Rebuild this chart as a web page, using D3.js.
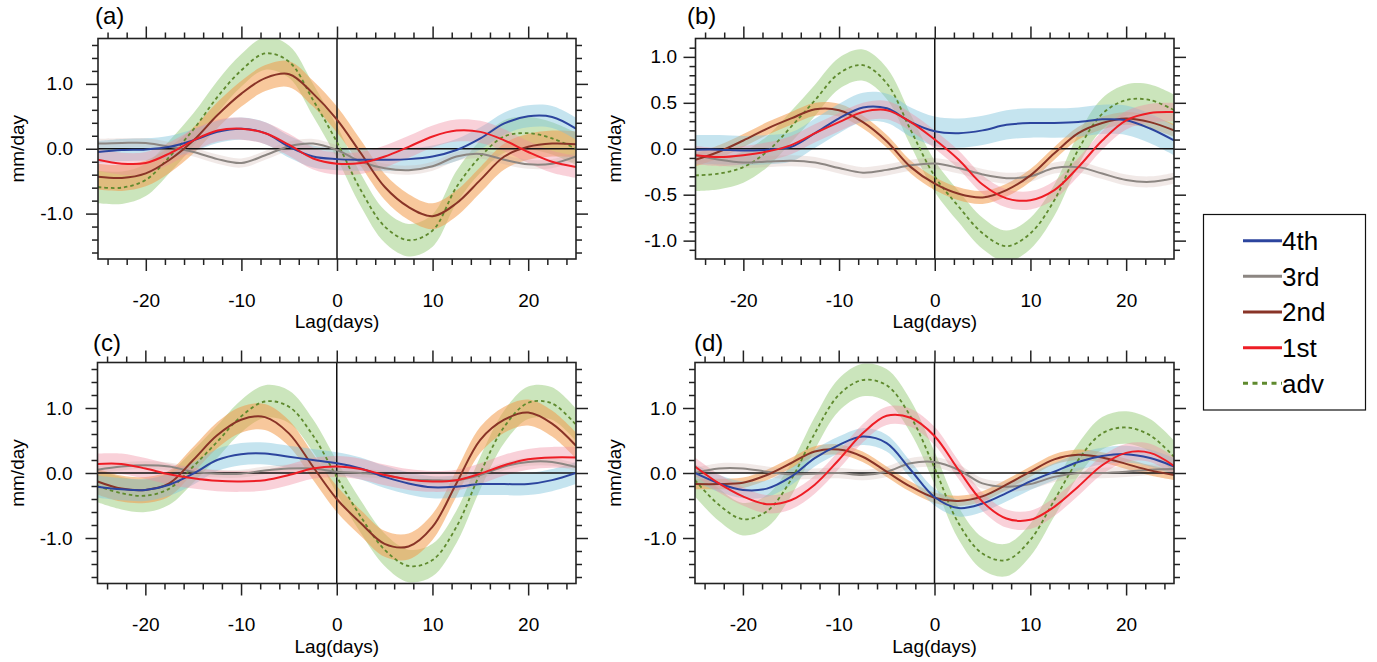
<!DOCTYPE html>
<html lang="en">
<head>
<meta charset="UTF-8">
<title>Lag composites</title>
<script src="https://cdn.jsdelivr.net/npm/d3@7"></script>
<style>
    body { margin: 0; background: #fff; }
    svg text { font-family: "Liberation Sans", Arial, Helvetica, sans-serif; fill: #000; }
</style>
</head>
<body>
<script>

    let w = 1377, h = 662;

    // lag axis shared by every series
    let lags = [-25, -22.5, -20, -17.5, -15, -12.5, -10, -7.5, -5, -2.5, 0,
                2.5, 5, 7.5, 10, 12.5, 15, 17.5, 20, 22.5, 25];

    let names = ['4th', '3rd', '2nd', '1st', 'adv'];
    let lineColors = ['#2c459e', '#8c8682', '#893427', '#ee1d25', '#5f8a2e'];
    let bandColors = ['#7ec3dc', '#c8a8a0', '#f39a4a', '#f08ca0', '#8cc66b'];
    let bandOpacity = [0.45, 0.25, 0.55, 0.4, 0.45];

    // (a)
    let a4th = [-0.05, -0.02, -0.01, 0.03, 0.13, 0.26, 0.31, 0.24, 0.03, -0.12, -0.16, -0.17, -0.17, -0.16, -0.12, -0.02, 0.16, 0.39, 0.50, 0.49, 0.31];
    let a3rd = [0.08, 0.09, 0.09, 0.03, -0.05, -0.16, -0.22, -0.10, 0.04, 0.08, -0.02, -0.20, -0.30, -0.33, -0.27, -0.12, -0.08, -0.17, -0.24, -0.23, -0.12];
    let a2nd = [-0.43, -0.45, -0.38, -0.17, 0.13, 0.52, 0.85, 1.09, 1.15, 0.85, 0.45, -0.07, -0.59, -0.90, -1.04, -0.84, -0.48, -0.12, 0.03, 0.08, 0.07];
    let a1st = [-0.17, -0.23, -0.22, -0.07, 0.13, 0.28, 0.31, 0.24, 0.06, -0.15, -0.23, -0.22, -0.12, 0.03, 0.19, 0.28, 0.26, 0.13, -0.05, -0.20, -0.28];
    let aAdv = [-0.59, -0.60, -0.48, -0.12, 0.30, 0.80, 1.21, 1.47, 1.34, 0.75, 0.10, -0.64, -1.20, -1.41, -1.26, -0.59, -0.12, 0.19, 0.24, 0.16, 0.00];
    let aSpread = [0.17, 0.07, 0.20, 0.17, 0.25];

    // (b)
    let b4th = [-0.01, -0.01, -0.02, -0.01, 0.02, 0.17, 0.33, 0.45, 0.44, 0.29, 0.19, 0.17, 0.20, 0.26, 0.28, 0.28, 0.29, 0.32, 0.31, 0.22, 0.09];
    let b3rd = [-0.07, -0.12, -0.15, -0.14, -0.13, -0.15, -0.21, -0.26, -0.23, -0.18, -0.16, -0.21, -0.28, -0.32, -0.30, -0.21, -0.20, -0.27, -0.34, -0.36, -0.32];
    let b2nd = [-0.12, -0.03, 0.09, 0.22, 0.33, 0.43, 0.42, 0.29, 0.08, -0.20, -0.38, -0.49, -0.53, -0.45, -0.29, -0.05, 0.17, 0.28, 0.33, 0.29, 0.20];
    let b1st = [-0.07, -0.09, -0.07, -0.03, 0.04, 0.17, 0.29, 0.40, 0.42, 0.29, 0.10, -0.12, -0.39, -0.54, -0.56, -0.45, -0.20, 0.09, 0.31, 0.39, 0.40];
    let bAdv = [-0.29, -0.27, -0.20, -0.03, 0.24, 0.53, 0.82, 0.91, 0.71, 0.20, -0.30, -0.63, -0.92, -1.06, -0.92, -0.56, -0.01, 0.38, 0.53, 0.53, 0.42];
    let bSpread = [0.16, 0.06, 0.07, 0.10, 0.17];

    // (c)
    let c4th = [-0.21, -0.25, -0.26, -0.18, -0.01, 0.20, 0.29, 0.30, 0.25, 0.20, 0.15, 0.07, -0.06, -0.16, -0.22, -0.21, -0.17, -0.17, -0.17, -0.11, 0.00];
    let c3rd = [0.05, 0.10, 0.12, 0.10, 0.02, -0.01, -0.01, 0.04, 0.07, 0.07, 0.02, 0.00, -0.03, -0.10, -0.11, -0.11, -0.03, 0.10, 0.17, 0.17, 0.09];
    let c2nd = [-0.13, -0.24, -0.26, -0.16, 0.20, 0.58, 0.82, 0.86, 0.61, 0.10, -0.40, -0.77, -1.09, -1.13, -0.83, -0.16, 0.51, 0.82, 0.93, 0.76, 0.42];
    let c1st = [0.14, 0.14, 0.07, -0.02, -0.08, -0.12, -0.13, -0.11, -0.03, 0.07, 0.10, 0.06, -0.03, -0.10, -0.13, -0.11, -0.01, 0.12, 0.21, 0.24, 0.24];
    let cAdv = [-0.20, -0.31, -0.35, -0.24, 0.10, 0.48, 0.87, 1.10, 1.02, 0.58, -0.06, -0.67, -1.18, -1.43, -1.34, -0.83, 0.00, 0.71, 1.08, 1.07, 0.74];
    let cSpread = [0.17, 0.06, 0.20, 0.16, 0.25];

    // (d)
    let d4th = [0.00, -0.16, -0.26, -0.24, -0.06, 0.23, 0.43, 0.56, 0.46, 0.05, -0.37, -0.54, -0.47, -0.31, -0.13, 0.02, 0.17, 0.26, 0.29, 0.23, 0.10];
    let d3rd = [0.00, 0.07, 0.07, 0.02, -0.02, -0.01, 0.00, -0.03, 0.02, 0.15, 0.17, 0.05, -0.16, -0.21, -0.17, -0.06, 0.00, 0.00, 0.02, 0.05, 0.06];
    let d2nd = [-0.17, -0.17, -0.15, -0.03, 0.15, 0.33, 0.36, 0.25, 0.02, -0.21, -0.38, -0.43, -0.36, -0.18, 0.02, 0.21, 0.28, 0.24, 0.14, 0.04, -0.03];
    let d1st = [0.10, -0.16, -0.36, -0.48, -0.42, -0.18, 0.20, 0.61, 0.88, 0.85, 0.57, 0.05, -0.44, -0.70, -0.72, -0.52, -0.21, 0.12, 0.31, 0.31, 0.11];
    let dAdv = [-0.11, -0.49, -0.71, -0.59, -0.11, 0.61, 1.20, 1.43, 1.35, 0.87, 0.08, -0.77, -1.24, -1.34, -1.03, -0.42, 0.20, 0.61, 0.70, 0.58, 0.25];
    let dSpread = [0.13, 0.08, 0.08, 0.14, 0.25];

    let yMajorWide = [-1, 0, 1];
    let yMajorNarrow = [-1, -0.5, 0, 0.5, 1];
    let xMajor = [-20, -10, 0, 10, 20];
    let xMinor = d3.range(-24, 25, 2).filter(i => i % 10 !== 0);
    let yMinorWide = d3.range(-16, 17, 2).filter(i => i % 10 !== 0).map(i => i / 10);
    let yMinorNarrow = d3.range(-11, 12, 1).filter(i => i % 5 !== 0).map(i => i / 10);

    let panels = [
        {label: '(a)', series: [a4th, a3rd, a2nd, a1st, aAdv], spread: aSpread,
         x0: 98, x1: 576, y0: 38.5, y1: 259, yDom: [-1.7, 1.7], yMajor: yMajorWide, yMinor: yMinorWide,
         lx: 95, ly: 24, pad: 13, titleX: 17},
        {label: '(b)', series: [b4th, b3rd, b2nd, b1st, bAdv], spread: bSpread,
         x0: 695.5, x1: 1174, y0: 38.5, y1: 259, yDom: [-1.2, 1.2], yMajor: yMajorNarrow, yMinor: yMinorNarrow,
         lx: 687, ly: 24, pad: 6.5, titleX: 614},
        {label: '(c)', series: [c4th, c3rd, c2nd, c1st, cAdv], spread: cSpread,
         x0: 97.5, x1: 576, y0: 362.5, y1: 583.5, yDom: [-1.7, 1.7], yMajor: yMajorWide, yMinor: yMinorWide,
         lx: 93, ly: 351, pad: 13, titleX: 17},
        {label: '(d)', series: [d4th, d3rd, d2nd, d1st, dAdv], spread: dSpread,
         x0: 695, x1: 1174, y0: 362.5, y1: 583.5, yDom: [-1.7, 1.7], yMajor: yMajorWide, yMinor: yMinorWide,
         lx: 694, ly: 351, pad: 6.5, titleX: 614}
    ];

    let svg = d3.select('body')
        .append('svg')
        .attr('width', w)
        .attr('height', h);

    let bandOrder = [4, 2, 0, 3, 1];
    let lineOrder = [4, 1, 2, 0, 3];

    function styleAxis(g) {
        g.select('.domain').remove();
        g.selectAll('line').attr('stroke', '#222').attr('stroke-width', 1.5);
        g.selectAll('text').style('font-size', '19px');
    }

    panels.forEach((p, k) => {
        let x = d3.scaleLinear().domain([-25, 25]).range([p.x0, p.x1]);
        let y = d3.scaleLinear().domain(p.yDom).range([p.y1, p.y0]);

        svg.append('clipPath').attr('id', 'clip' + k)
            .append('rect')
            .attr('x', p.x0).attr('y', p.y0)
            .attr('width', p.x1 - p.x0).attr('height', p.y1 - p.y0);

        let plot = svg.append('g').attr('clip-path', 'url(#clip' + k + ')');

        bandOrder.forEach(j => {
            let s = p.spread[j];
            let area = d3.area()
                .x((d, i) => x(lags[i]))
                .y0(d => y(d - s))
                .y1(d => y(d + s))
                .curve(d3.curveCatmullRom);
            plot.append('path')
                .attr('d', area(p.series[j]))
                .attr('fill', bandColors[j])
                .attr('fill-opacity', bandOpacity[j]);
        });

        // zero lines
        plot.append('line')
            .attr('x1', p.x0).attr('x2', p.x1)
            .attr('y1', y(0)).attr('y2', y(0))
            .attr('stroke', '#111').attr('stroke-width', 1.5);
        plot.append('line')
            .attr('x1', x(0)).attr('x2', x(0))
            .attr('y1', p.y0).attr('y2', p.y1)
            .attr('stroke', '#111').attr('stroke-width', 1.5);

        lineOrder.forEach(j => {
            let line = d3.line()
                .x((d, i) => x(lags[i]))
                .y(d => y(d))
                .curve(d3.curveCatmullRom);
            plot.append('path')
                .attr('d', line(p.series[j]))
                .attr('fill', 'none')
                .attr('stroke', lineColors[j])
                .attr('stroke-width', j === 4 ? 1.8 : 2)
                .attr('stroke-dasharray', j === 4 ? '3.5,3' : null);
        });

        // frame
        svg.append('rect')
            .attr('x', p.x0).attr('y', p.y0)
            .attr('width', p.x1 - p.x0).attr('height', p.y1 - p.y0)
            .attr('fill', 'none')
            .attr('stroke', '#222')
            .attr('stroke-width', 1.6);

        // ticks, outward on all four sides
        svg.append('g').attr('transform', 'translate(0,' + p.y1 + ')')
            .call(d3.axisBottom(x).tickValues(xMajor).tickSize(12).tickPadding(22.5).tickFormat(d => String(d)))
            .call(styleAxis);
        svg.append('g').attr('transform', 'translate(0,' + p.y1 + ')')
            .call(d3.axisBottom(x).tickValues(xMinor).tickSize(6).tickFormat(''))
            .call(styleAxis);
        svg.append('g').attr('transform', 'translate(0,' + p.y0 + ')')
            .call(d3.axisTop(x).tickValues(xMajor).tickSize(12).tickFormat(''))
            .call(styleAxis);
        svg.append('g').attr('transform', 'translate(0,' + p.y0 + ')')
            .call(d3.axisTop(x).tickValues(xMinor).tickSize(6).tickFormat(''))
            .call(styleAxis);

        svg.append('g').attr('transform', 'translate(' + p.x0 + ',0)')
            .call(d3.axisLeft(y).tickValues(p.yMajor).tickSize(12).tickPadding(p.pad).tickFormat(d => d.toFixed(1)))
            .call(styleAxis);
        svg.append('g').attr('transform', 'translate(' + p.x0 + ',0)')
            .call(d3.axisLeft(y).tickValues(p.yMinor).tickSize(6).tickFormat(''))
            .call(styleAxis);
        svg.append('g').attr('transform', 'translate(' + p.x1 + ',0)')
            .call(d3.axisRight(y).tickValues(p.yMajor).tickSize(12).tickFormat(''))
            .call(styleAxis);
        svg.append('g').attr('transform', 'translate(' + p.x1 + ',0)')
            .call(d3.axisRight(y).tickValues(p.yMinor).tickSize(6).tickFormat(''))
            .call(styleAxis);

        // titles
        svg.append('text')
            .attr('x', p.lx).attr('y', p.ly)
            .style('font-size', '24px')
            .text(p.label);

        svg.append('text')
            .attr('x', (p.x0 + p.x1) / 2).attr('y', p.y1 + 69)
            .attr('text-anchor', 'middle')
            .style('font-size', '19px')
            .text('Lag(days)');

        svg.append('text')
            .attr('transform', 'translate(' + p.titleX + ',' + (p.y0 + p.y1) / 2 + ') rotate(-90)')
            .attr('text-anchor', 'middle')
            .attr('dy', '0.35em')
            .style('font-size', '19px')
            .text('mm/day');
    });

    // legend
    let legend = svg.append('g');
    legend.append('rect')
        .attr('x', 1203.5).attr('y', 214.5)
        .attr('width', 162).attr('height', 195.5)
        .attr('fill', 'none')
        .attr('stroke', '#111')
        .attr('stroke-width', 1.2);

    let legendY = d3.scalePoint().domain(names).range([240.7, 383.3]);

    names.forEach((n, j) => {
        legend.append('line')
            .attr('x1', 1243).attr('x2', 1282)
            .attr('y1', legendY(n)).attr('y2', legendY(n))
            .attr('stroke', lineColors[j])
            .attr('stroke-width', 3)
            .attr('stroke-dasharray', j === 4 ? '5,4.5' : null);
        legend.append('text')
            .attr('x', 1282).attr('y', legendY(n) + 9.3)
            .style('font-size', '26px')
            .text(n);
    });

</script>
</body>
</html>
